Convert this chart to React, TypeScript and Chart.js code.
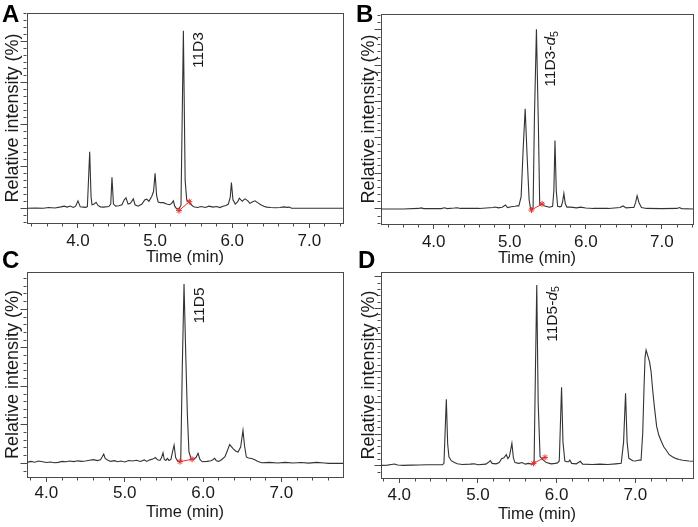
import React, { useEffect, useRef } from 'react';
import { Chart, registerables } from 'chart.js';

Chart.register(...registerables);

// ---------------- data ----------------
const panelLetters = ['A', 'B', 'C', 'D'];
const xAxisTitle = 'Time (min)';
const yAxisTitle = 'Relative intensity (%)';
const xTickLabels = ['4.0', '5.0', '6.0', '7.0'];

// peak annotation: main text, italic part, subscript part
const peakNames = ['11D3', '11D3-', '11D5', '11D5-'];
const peakItalic = ['', 'd', '', 'd'];
const peakSub = ['', '5', '', '5'];
const peakLabelTime = [5.57, 5.54, 5.958, 5.946];
const peakLabelLevel = [100.7, 68.3, 72.7, 78.8];

// integration markers (red)
const markerTimeA = [5.31, 5.444];
const markerLevelA = [-1.7, 4.7];
const markerTimeB = [5.285, 5.425];
const markerLevelB = [-0.6, 2.8];
const markerTimeC = [5.706, 5.86];
const markerLevelC = [0.9, 2.1];
const markerTimeD = [5.705, 5.852];
const markerLevelD = [1.5, 5.3];

// Panel A: 11D3
const timeA = [3.339, 3.45, 3.55, 3.62, 3.70, 3.78, 3.82, 3.86, 3.90, 3.94, 3.97, 4.00, 4.03, 4.07, 4.10, 4.122, 4.152, 4.17, 4.182, 4.21, 4.235, 4.26, 4.29, 4.33, 4.40, 4.425, 4.441, 4.46, 4.49, 4.53, 4.57, 4.60, 4.623, 4.65, 4.68, 4.718, 4.74, 4.78, 4.83, 4.865, 4.891, 4.92, 4.956, 4.98, 5.00, 5.02, 5.04, 5.07, 5.107, 5.15, 5.19, 5.215, 5.237, 5.255, 5.28, 5.31, 5.336, 5.367, 5.39, 5.41, 5.44, 5.47, 5.50, 5.55, 5.60, 5.65, 5.70, 5.75, 5.80, 5.84, 5.88, 5.92, 5.95, 5.975, 5.99, 6.01, 6.04, 6.07, 6.093, 6.13, 6.166, 6.20, 6.23, 6.26, 6.296, 6.33, 6.37, 6.41, 6.447, 6.50, 6.56, 6.62, 6.67, 6.71, 6.74, 6.77, 7.437];
const intensityA = [0, 0.2, 0, 0.5, 0.2, 1.0, 1.5, 0.8, 1.6, 0.6, 1.5, 5.3, 1.0, 0.8, 0.6, 1.2, 40.6, 8, 2.5, 3.0, 4.3, 2.0, 1.0, 0.8, 1.2, 3.0, 22.2, 3.0, 1.5, 1.8, 2.5, 6.0, 7.4, 3.0, 3.5, 6.7, 2.5, 1.5, 3.0, 6.0, 6.5, 5.0, 8.5, 12, 25.1, 9, 4.5, 4.0, 4.0, 3.0, 2.5, 3.5, 5.3, 1.5, -0.5, -0.3, 2.0, 127.5, 20, 6, 4.5, 2.5, 1.0, 0.5, 1.2, 0.5, 1.5, 0.8, 1.2, 0.5, 1.5, 2.0, 3.0, 8.0, 18.4, 6.0, 3.0, 4.5, 7.2, 5.0, 6.7, 5.5, 3.5, 4.5, 5.3, 4.0, 2.5, 1.5, 0.8, 0.5, 0.3, 0.5, 1.0, 0.6, 0.8, 0, 0];

// Panel B: 11D3-d5
const timeB = [3.307, 3.60, 3.80, 3.834, 3.87, 4.10, 4.14, 4.18, 4.27, 4.31, 4.35, 4.60, 4.78, 4.81, 4.85, 4.90, 4.945, 4.97, 5.02, 5.07, 5.10, 5.12, 5.15, 5.176, 5.203, 5.229, 5.255, 5.272, 5.285, 5.307, 5.325, 5.351, 5.377, 5.394, 5.425, 5.45, 5.52, 5.564, 5.58, 5.595, 5.612, 5.63, 5.66, 5.678, 5.695, 5.712, 5.73, 5.752, 5.80, 5.88, 5.93, 6.00, 6.10, 6.30, 6.45, 6.49, 6.53, 6.60, 6.632, 6.655, 6.675, 6.70, 6.732, 6.80, 7.00, 7.20, 7.23, 7.26, 7.41];
const intensityB = [0, 0, 0.3, 0.6, 0.2, 0.2, 0.7, 0.2, 0.5, 0.7, 0.3, 0.3, 0.8, 1.1, 0.6, 1.0, 2.2, 0.8, 1.2, 1.5, 1.8, 1.7, 6.9, 33, 55.9, 29, 5, 0.6, -0.6, 0.6, 51.6, 100.4, 46, 2.5, 2.8, 1.8, 1.0, 1.5, 10, 38.2, 10, 1.5, 1.2, 1.5, 4, 8.75, 3, 1.0, 1.0, 0.6, 1.0, 0.5, 0.3, 0.3, 0.8, 1.7, 0.6, 0.8, 0.8, 3.5, 7.4, 3.5, 0.8, 0.3, 0.2, 0.3, 0.8, 0.2, 0];

// Panel C: 11D5
const timeC = [3.752, 3.80, 3.85, 3.90, 3.95, 4.00, 4.05, 4.10, 4.15, 4.20, 4.25, 4.30, 4.35, 4.40, 4.45, 4.50, 4.55, 4.60, 4.65, 4.69, 4.715, 4.732, 4.75, 4.78, 4.82, 4.87, 4.91, 4.95, 5.00, 5.05, 5.10, 5.15, 5.20, 5.25, 5.28, 5.32, 5.36, 5.39, 5.42, 5.45, 5.47, 5.489, 5.505, 5.525, 5.545, 5.565, 5.59, 5.61, 5.63, 5.65, 5.67, 5.70, 5.715, 5.735, 5.757, 5.78, 5.80, 5.82, 5.85, 5.88, 5.91, 5.936, 5.96, 5.99, 6.05, 6.10, 6.13, 6.149, 6.17, 6.20, 6.24, 6.28, 6.31, 6.34, 6.383, 6.42, 6.447, 6.48, 6.51, 6.53, 6.553, 6.58, 6.62, 6.66, 6.70, 6.75, 6.85, 6.95, 7.05, 7.15, 7.25, 7.35, 7.45, 7.55, 7.60, 7.787];
const intensityC = [0.5, 1.0, 0.6, 1.2, 0.8, 0.4, 0.7, 0.3, 0.5, 1.0, 0.8, 1.2, 0.9, 1.3, 1.0, 1.2, 1.6, 1.9, 1.4, 1.8, 3.5, 4.8, 2.5, 1.7, 1.0, 1.4, 0.8, 1.2, 0.7, 1.5, 1.2, 1.6, 1.0, 1.8, 1.0, 1.8, 2.2, 3.0, 1.8, 1.5, 3.0, 5.5, 2.0, 1.5, 2.6, 1.5, 2.0, 6.0, 9.5, 3.0, 1.5, 0.7, 1.5, 50, 93.2, 55, 25, 6, 2.0, 2.2, 3.0, 5.2, 2.0, 0.8, 1.0, 1.3, 2.0, 2.6, 1.3, 1.0, 2.0, 3.5, 6.5, 9.7, 7.6, 6.3, 5.9, 8.5, 17.1, 9, 3.3, 2.8, 2.5, 1.8, 1.0, 0.3, 0.5, 0.2, 0.5, 0.2, 0.4, 0.1, 0.5, 0.2, 0, 0];

// Panel D: 11D5-d5
const timeD = [3.768, 3.85, 3.90, 3.94, 3.98, 4.05, 4.15, 4.25, 4.35, 4.45, 4.55, 4.568, 4.598, 4.615, 4.631, 4.661, 4.70, 4.737, 4.80, 4.90, 4.95, 5.00, 5.10, 5.13, 5.157, 5.18, 5.23, 5.27, 5.30, 5.33, 5.36, 5.38, 5.40, 5.431, 5.45, 5.47, 5.52, 5.56, 5.60, 5.64, 5.68, 5.713, 5.73, 5.747, 5.765, 5.789, 5.83, 5.87, 5.93, 5.98, 6.01, 6.033, 6.062, 6.08, 6.104, 6.13, 6.15, 6.167, 6.19, 6.25, 6.30, 6.33, 6.45, 6.55, 6.65, 6.75, 6.82, 6.85, 6.875, 6.895, 6.917, 6.967, 7.00, 7.05, 7.072, 7.093, 7.11, 7.123, 7.136, 7.157, 7.18, 7.199, 7.22, 7.24, 7.27, 7.30, 7.325, 7.36, 7.39, 7.43, 7.47, 7.52, 7.556, 7.60, 7.68, 7.732];
const intensityD = [0.2, 0.4, 0.8, 1.1, 0.5, 0.2, 0.4, 0.5, 0.6, 0.6, 0.7, 1.5, 42.2, 14, 5.7, 3.2, 2.0, 1.2, 0.8, 1.0, 1.2, 0.6, 1.0, 2.0, 3.2, 1.5, 1.2, 2.0, 4.5, 5.0, 7.0, 4.5, 6.0, 14.2, 5.0, 2.0, 1.5, 2.0, 1.0, 1.5, 1.0, 1.5, 60, 114.8, 40, 5.7, 3.6, 2.0, 1.2, 1.5, 1.8, 3.0, 49.8, 15, 3.0, 2.5, 2.5, 3.6, 1.5, 1.2, 2.8, 1.0, 0.8, 1.0, 0.8, 1.2, 1.5, 15, 46, 15, 4.7, 3.2, 3.0, 3.6, 3.5, 20.5, 50, 69, 73.5, 70, 66, 60, 48, 38, 25, 19, 16, 12, 10, 7, 5.7, 4.5, 4.0, 3.5, 3.0, 2.8];

// ---------------- layout / style ----------------
const FONT = '"Liberation Sans", Arial, Helvetica, sans-serif';
const INK = '#1a1a1a';
const AXIS = '#4a4a4a';
const TRACE = '#333333';
const RED = '#e8302f';

type Panel = {
  idx: number;
  time: number[];
  intensity: number[];
  mTime: number[];
  mLevel: number[];
  canvas: { left: number; top: number; w: number; h: number };
  area: { l: number; t: number; r: number; b: number };
  xMin: number; xMax: number; yMin: number; yMax: number;
  yMajor: number; yMinor: number;
  letterPos: [number, number];
  yTitleX: number; xLabelY: number; xTitleY: number;
};

const PANELS: Panel[] = [
  {
    idx: 0, time: timeA, intensity: intensityA, mTime: markerTimeA, mLevel: markerLevelA,
    canvas: { left: 0, top: 0, w: 349, h: 272 }, area: { l: 27, t: 13, r: 343, b: 223 },
    xMin: 3.339, xMax: 7.437, yMin: -10.6, yMax: 140.2, yMajor: 30, yMinor: 5,
    letterPos: [2, 22], yTitleX: 13.5, xLabelY: 241, xTitleY: 257,
  },
  {
    idx: 1, time: timeB, intensity: intensityB, mTime: markerTimeB, mLevel: markerLevelB,
    canvas: { left: 349, top: 0, w: 349, h: 272 }, area: { l: 381, t: 14, r: 695, b: 224 },
    xMin: 3.307, xMax: 7.41, yMin: -8.4, yMax: 108.9, yMajor: 20, yMinor: 4,
    letterPos: [356, 22], yTitleX: 369, xLabelY: 242, xTitleY: 258,
  },
  {
    idx: 2, time: timeC, intensity: intensityC, mTime: markerTimeC, mLevel: markerLevelC,
    canvas: { left: 0, top: 245, w: 349, h: 282 }, area: { l: 27, t: 272, r: 343, b: 477 },
    xMin: 3.752, xMax: 7.787, yMin: -7.1, yMax: 99.4, yMajor: 20, yMinor: 4,
    letterPos: [2, 268], yTitleX: 13.5, xLabelY: 493, xTitleY: 512,
  },
  {
    idx: 3, time: timeD, intensity: intensityD, mTime: markerTimeD, mLevel: markerLevelD,
    canvas: { left: 349, top: 245, w: 349, h: 282 }, area: { l: 381, t: 272, r: 695, b: 478 },
    xMin: 3.768, xMax: 7.732, yMin: -7.8, yMax: 123.1, yMajor: 20, yMinor: 4,
    letterPos: [358, 268], yTitleX: 369, xLabelY: 495, xTitleY: 514,
  },
];

const isMultiple = (v: number, step: number) => Math.abs(v / step - Math.round(v / step)) < 1e-6;

const textPlugin = {
  id: 'panelText',
  afterDatasetsDraw(chart: any, _args: any, opts: any) {
    const { ctx, scales } = chart;
    const p: Panel = opts.panel;
    ctx.save();
    // panel letter
    ctx.fillStyle = '#000';
    ctx.font = `bold 24px ${FONT}`;
    ctx.textBaseline = 'alphabetic';
    ctx.textAlign = 'left';
    ctx.fillText(panelLetters[p.idx], p.letterPos[0] - p.canvas.left, p.letterPos[1] - p.canvas.top);
    // peak label, rotated
    const px = scales.x.getPixelForValue(peakLabelTime[p.idx]);
    const py = scales.y.getPixelForValue(peakLabelLevel[p.idx]);
    ctx.translate(px, py);
    ctx.rotate(-Math.PI / 2);
    ctx.fillStyle = INK;
    ctx.textBaseline = 'middle';
    ctx.font = `15.5px ${FONT}`;
    let x = 0;
    ctx.fillText(peakNames[p.idx], x, 0);
    x += ctx.measureText(peakNames[p.idx]).width;
    if (peakItalic[p.idx]) {
      ctx.font = `italic 15.5px ${FONT}`;
      ctx.fillText(peakItalic[p.idx], x, 0);
      x += ctx.measureText(peakItalic[p.idx]).width;
    }
    if (peakSub[p.idx]) {
      ctx.font = `10.5px ${FONT}`;
      ctx.fillText(peakSub[p.idx], x, 4);
    }
    ctx.restore();
  },
};

function buildConfig(p: Panel): any {
  const c = p.canvas;
  const a = p.area;
  const tickFont = { family: FONT, size: 17, lineHeight: 1.2 };
  const xTitleFont = { family: FONT, size: 16.5, lineHeight: 1.2 };
  const yTitleFont = { family: FONT, size: 18, lineHeight: 1.2 };
  const xTickLen = 5;
  const yTickLen = 6.5;
  const xLabelPad = p.xLabelY - a.b - xTickLen - (tickFont.size * 1.2) / 2;
  const xAxisH = p.xTitleY + (xTitleFont.size * 1.2) / 2 - a.b;
  const yAxisW = a.l - c.left;
  const yTitlePad = p.yTitleX - c.left - (yTitleFont.size * 1.2) / 2;
  const padding = {
    left: 0,
    top: a.t - c.top,
    right: c.left + c.w - a.r,
    bottom: c.top + c.h - a.b - xAxisH,
  };
  const trace = p.time.map((t, i) => ({ x: t, y: p.intensity[i] }));
  const markers = p.mTime.map((t, i) => ({ x: t, y: p.mLevel[i] }));

  return {
    type: 'line',
    data: {
      datasets: [
        {
          data: trace, borderColor: TRACE, borderWidth: 1.1, pointRadius: 0, tension: 0,
          fill: false, order: 2,
        },
        {
          data: markers, borderColor: RED, backgroundColor: RED, borderWidth: 1, showLine: true,
          pointStyle: 'star', pointRadius: 3, pointBorderColor: RED, pointBorderWidth: 1, order: 1,
        },
      ],
    },
    options: {
      responsive: false,
      maintainAspectRatio: false,
      animation: false,
      devicePixelRatio: 1,
      events: [],
      layout: { padding },
      plugins: {
        legend: { display: false },
        tooltip: { enabled: false },
        title: { display: false },
        panelText: { panel: p },
      },
      scales: {
        x: {
          type: 'linear', position: 'bottom', min: p.xMin, max: p.xMax,
          ticks: {
            stepSize: 0.2, autoSkip: false, includeBounds: false, maxRotation: 0, minRotation: 0,
            padding: xLabelPad, font: tickFont, color: INK,
            callback: (v: number) => {
              const s = Number(v).toFixed(1);
              return isMultiple(v, 1) && xTickLabels.includes(s) ? s : '';
            },
          },
          grid: {
            display: true, drawOnChartArea: false, drawTicks: true, tickLength: xTickLen,
            tickColor: AXIS, tickWidth: 1,
            tickBorderDash: (ctx: any) => (ctx.tick && isMultiple(ctx.tick.value, 1) ? [] : [2.5, 20]),
          },
          border: { display: true, color: AXIS, width: 1 },
          title: { display: true, text: xAxisTitle, font: xTitleFont, color: INK, padding: { top: 0, bottom: 0 } },
          afterFit: (s: any) => { s.height = xAxisH; },
        },
        y: {
          type: 'linear', position: 'left', min: p.yMin, max: p.yMax,
          ticks: { display: false, stepSize: p.yMinor, includeBounds: false, autoSkip: false },
          grid: {
            display: true, drawOnChartArea: false, drawTicks: true, tickLength: yTickLen,
            tickColor: AXIS, tickWidth: 1,
            tickBorderDash: (ctx: any) => (ctx.tick && isMultiple(ctx.tick.value, p.yMajor) ? [] : [3, 3]),
            tickBorderDashOffset: (ctx: any) => (ctx.tick && isMultiple(ctx.tick.value, p.yMajor) ? 0 : 3),
          },
          border: { display: true, color: AXIS, width: 1 },
          title: { display: true, text: yAxisTitle, font: yTitleFont, color: INK, padding: { top: yTitlePad, bottom: 0 } },
          afterFit: (s: any) => { s.width = yAxisW; },
        },
        xTop: {
          type: 'linear', position: 'top', display: true,
          ticks: { display: false },
          grid: { display: true, drawOnChartArea: false, drawTicks: false },
          border: { display: true, color: AXIS, width: 1 },
          afterFit: (s: any) => { s.height = 0; },
        },
        yRight: {
          type: 'linear', position: 'right', display: true,
          ticks: { display: false },
          grid: { display: true, drawOnChartArea: false, drawTicks: false },
          border: { display: true, color: AXIS, width: 1 },
          afterFit: (s: any) => { s.width = 0; },
        },
      },
    },
    plugins: [textPlugin],
  };
}

function PanelChart({ panel }: { panel: Panel }) {
  const ref = useRef<HTMLCanvasElement>(null);
  useEffect(() => {
    if (!ref.current) return;
    const chart = new Chart(ref.current, buildConfig(panel));
    return () => chart.destroy();
  }, [panel]);
  const c = panel.canvas;
  return (
    <canvas
      ref={ref}
      width={c.w}
      height={c.h}
      style={{ position: 'absolute', left: c.left, top: c.top, width: c.w, height: c.h }}
    />
  );
}

export default function App() {
  useEffect(() => {
    document.body.style.margin = '0';
    document.body.style.background = '#fff';
  }, []);
  return (
    <div style={{ position: 'relative', width: 698, height: 527, background: '#fff', overflow: 'hidden' }}>
      {PANELS.map((p) => (
        <PanelChart key={p.idx} panel={p} />
      ))}
    </div>
  );
}
